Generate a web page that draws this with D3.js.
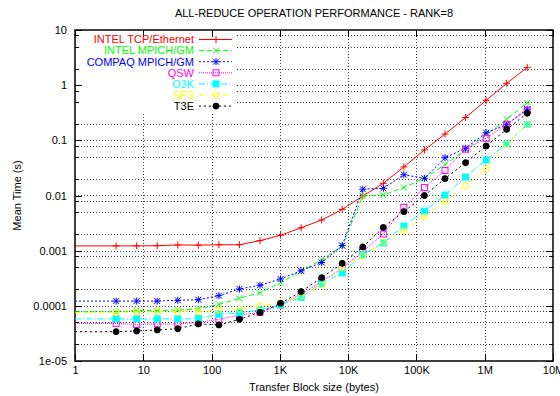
<!DOCTYPE html>
<html>
<head>
<meta charset="utf-8">
<script src="https://cdn.jsdelivr.net/npm/d3@7"></script>
<style>
  body { margin: 0; background: #fff; }
  #chart { width: 560px; height: 396px; }
  text { font-family: 'Liberation Sans', Arial, sans-serif; font-size: 11px; }
</style>
</head>
<body>
<div id="chart"></div>
<script>
// transfer block sizes (bytes)
const blockSizes = [4, 8, 16, 32, 64, 128, 256, 512, 1024, 2048, 4096, 8192, 16384,
  32768, 65536, 131072, 262144, 524288, 1048576, 2097152, 4194304];

// mean time (s) per implementation
const intelTcp = [0.00122, 0.00122, 0.00123, 0.00127, 0.00126, 0.00128, 0.00128, 0.00152,
  0.0019, 0.0026, 0.0036, 0.0056, 0.0098, 0.0166, 0.033, 0.067, 0.13, 0.26, 0.53, 1.08, 2.1];
const intelMpich = [0.000078, 0.000082, 0.000082, 0.000084, 0.000088, 0.000106, 0.000137, 0.000173,
  0.000263, 0.000429, 0.00068, 0.00122, 0.0098, 0.0102, 0.014, 0.0205, 0.0365, 0.067, 0.126, 0.24, 0.48];
const compaqMpich = [0.000122, 0.000122, 0.000122, 0.000126, 0.000129, 0.000153, 0.000202, 0.000236,
  0.000307, 0.000432, 0.00061, 0.00124, 0.013, 0.0135, 0.0238, 0.0205, 0.0484, 0.0718, 0.137, 0.195, 0.366];
const qsw = [0.000048, 0.000046, 0.000047, 0.000047, 0.00005, 0.000057, 0.000068, 0.000076,
  0.000104, 0.000164, 0.000274, 0.00048, 0.00097, 0.002, 0.0061, 0.0139, 0.0284, 0.069, 0.109, 0.195, 0.355];
const o3k = [0.000058, 0.000058, 0.000058, 0.000058, 0.000059, 0.00007, 0.000075, 0.000084,
  0.000104, 0.000143, 0.000256, 0.000394, 0.00084, 0.00138, 0.0028, 0.0052, 0.0102, 0.0216, 0.044, 0.086, 0.194];
const sp3 = [0.000075, 0.000078, 0.000078, 0.000078, 0.000078, 0.000084, 0.0000865, 0.0001,
  0.000114, 0.000151, 0.000239, 0.000485, 0.0008, 0.00144, 0.0023, 0.0041, 0.0077, 0.0151, 0.0303, 0.085, 0.195];
const t3e = [0.000034, 0.000035, 0.0000365, 0.0000385, 0.000047, 0.000045, 0.000057, 0.000076,
  0.000111, 0.000181, 0.000324, 0.00059, 0.00117, 0.00263, 0.0051, 0.01, 0.0202, 0.0394, 0.079, 0.158, 0.31];

const seriesNames = ['INTEL TCP/Ethernet', 'INTEL MPICH/GM', 'COMPAQ MPICH/GM', 'QSW', 'O3K', 'SP3', 'T3E'];
const seriesValues = [intelTcp, intelMpich, compaqMpich, qsw, o3k, sp3, t3e];

const xTickValues = [1, 10, 100, 1e3, 1e4, 1e5, 1e6, 1e7];
const xTickLabels = ['1', '10', '100', '1K', '10K', '100K', '1M', '10M'];
const yTickValues = [1e-5, 1e-4, 1e-3, 1e-2, 1e-1, 1, 10];
const yTickLabels = ['1e-05', '0.0001', '0.001', '0.01', '0.1', '1', '10'];

const styles = [
  { color: '#ff0000', dash: null, marker: 'plus' },
  { color: '#00ff00', dash: '5,3', marker: 'cross' },
  { color: '#0000ff', dash: '2,2', marker: 'star' },
  { color: '#ff00ff', dash: '1,1', marker: 'square' },
  { color: '#00ffff', dash: '6,2,1,2', marker: 'fsquare' },
  { color: '#ffff00', dash: '5,3,1,3', marker: 'circle' },
  { color: '#000000', dash: '2,3', marker: 'fcircle' },
];

const width = 560, height = 396;
const margin = { top: 30, right: 7, bottom: 35, left: 75 };
const x0 = margin.left, x1 = width - margin.right;
const y0 = margin.top, y1 = height - margin.bottom;

const svg = d3.select('#chart').append('svg').attr('width', width).attr('height', height);

const xScale = d3.scaleLog().domain([1, 1e7]).range([x0, x1]);
const yScale = d3.scaleLog().domain([1e-5, 10]).range([y1, y0]);

// minor y positions (2, 5, 8 of each decade)
const yMinor = [];
for (let e = -5; e < 1; e++) {
  [2, 5, 8].forEach((m) => yMinor.push(m * Math.pow(10, e)));
}

// grid
const gridG = svg.append('g').attr('class', 'grid')
  .attr('stroke', '#000').attr('stroke-width', 1).attr('stroke-dasharray', '1,2')
  .attr('shape-rendering', 'crispEdges').attr('opacity', 0.75);
gridG.selectAll('line.gx').data(xTickValues.slice(1, -1)).enter().append('line')
  .attr('class', 'gx')
  .attr('x1', (d) => Math.round(xScale(d)) + 0.5).attr('x2', (d) => Math.round(xScale(d)) + 0.5)
  .attr('y1', y0).attr('y2', y1);
gridG.selectAll('line.gy').data(yTickValues.slice(1, -1).concat(yMinor)).enter().append('line')
  .attr('class', 'gy')
  .attr('x1', x0).attr('x2', x1)
  .attr('y1', (d) => Math.round(yScale(d)) + 0.5).attr('y2', (d) => Math.round(yScale(d)) + 0.5);

// opaque key area
svg.append('rect').attr('x', x0 + 1).attr('y', y0 + 1).attr('width', 161).attr('height', 82).attr('fill', '#fff');

// axes (ticks drawn inward)
function styleAxis(g) {
  g.select('.domain').remove();
  g.selectAll('line').attr('stroke', '#000').attr('shape-rendering', 'crispEdges');
  g.selectAll('text').attr('font-size', 11).attr('font-family', "'Liberation Sans', Arial, sans-serif").attr('fill', '#000');
}
svg.append('g').attr('transform', 'translate(0,' + y1 + ')')
  .call(d3.axisBottom(xScale).tickValues(xTickValues).tickSizeInner(-7).tickSizeOuter(0).tickPadding(5)
    .tickFormat((d, i) => xTickLabels[i]))
  .call(styleAxis);
svg.append('g').attr('transform', 'translate(0,' + y0 + ')')
  .call(d3.axisTop(xScale).tickValues(xTickValues).tickSizeInner(-7).tickSizeOuter(0).tickFormat(''))
  .call(styleAxis);
svg.append('g').attr('transform', 'translate(' + x0 + ',0)')
  .call(d3.axisLeft(yScale).tickValues(yTickValues).tickSizeInner(-7).tickSizeOuter(0).tickPadding(8)
    .tickFormat((d, i) => yTickLabels[i]))
  .call(styleAxis);
svg.append('g').attr('transform', 'translate(' + x1 + ',0)')
  .call(d3.axisRight(yScale).tickValues(yTickValues).tickSizeInner(-7).tickSizeOuter(0).tickFormat(''))
  .call(styleAxis);
svg.append('g').attr('transform', 'translate(' + x0 + ',0)')
  .call(d3.axisLeft(yScale).tickValues(yMinor).tickSizeInner(-4).tickSizeOuter(0).tickFormat(''))
  .call(styleAxis);
svg.append('g').attr('transform', 'translate(' + x1 + ',0)')
  .call(d3.axisRight(yScale).tickValues(yMinor).tickSizeInner(-4).tickSizeOuter(0).tickFormat(''))
  .call(styleAxis);

// frame
svg.append('rect').attr('x', x0).attr('y', y0).attr('width', x1 - x0).attr('height', y1 - y0)
  .attr('fill', 'none').attr('stroke', '#000').attr('stroke-width', 1.5);

// titles
svg.append('text').attr('x', (x0 + x1) / 2).attr('y', 17).attr('text-anchor', 'middle')
  .text('ALL-REDUCE OPERATION PERFORMANCE - RANK=8');
svg.append('text').attr('x', (x0 + x1) / 2).attr('y', 391).attr('text-anchor', 'middle')
  .text('Transfer Block size (bytes)');
svg.append('text').attr('transform', 'translate(21,' + (y0 + y1) / 2 + ') rotate(-90)')
  .attr('text-anchor', 'middle').text('Mean Time (s)');

// marker drawing
function drawMarker(g, type, color, cx, cy) {
  const s = 3.5;
  if (type === 'plus' || type === 'star') {
    g.append('line').attr('x1', cx - s).attr('x2', cx + s).attr('y1', cy).attr('y2', cy).attr('stroke', color);
    g.append('line').attr('x1', cx).attr('x2', cx).attr('y1', cy - s).attr('y2', cy + s).attr('stroke', color);
  }
  if (type === 'cross' || type === 'star') {
    g.append('line').attr('x1', cx - 3).attr('x2', cx + 3).attr('y1', cy - 3).attr('y2', cy + 3).attr('stroke', color);
    g.append('line').attr('x1', cx - 3).attr('x2', cx + 3).attr('y1', cy + 3).attr('y2', cy - 3).attr('stroke', color);
  }
  if (type === 'square' || type === 'fsquare') {
    g.append('rect').attr('x', cx - 3).attr('y', cy - 3).attr('width', 6).attr('height', 6)
      .attr('fill', type === 'fsquare' ? color : 'none').attr('stroke', color);
  }
  if (type === 'circle' || type === 'fcircle') {
    g.append('circle').attr('cx', cx).attr('cy', cy).attr('r', 3)
      .attr('fill', type === 'fcircle' ? color : 'none').attr('stroke', color);
  }
}

// series
const plotG = svg.append('g');
const line = d3.line().x((d) => xScale(d.b)).y((d) => yScale(d.v));
seriesValues.forEach((vals, si) => {
  const st = styles[si];
  const pts = blockSizes.map((b, i) => ({ b: b, v: vals[i] }));
  // lead-in from the left edge at the first value
  const path = [{ b: xScale.domain()[0], v: vals[0] }].concat(pts);
  const g = plotG.append('g');
  g.append('path').attr('d', line(path)).attr('fill', 'none').attr('stroke', st.color)
    .attr('stroke-width', 1).attr('stroke-dasharray', st.dash);
  pts.forEach((p) => drawMarker(g, st.marker, st.color, xScale(p.b), yScale(p.v)));
});

// key
const keyG = svg.append('g');
seriesNames.forEach((name, i) => {
  const st = styles[i];
  const ky = 39.5 + i * 11.1;
  keyG.append('text').attr('x', 194).attr('y', ky).attr('dy', '0.35em').attr('text-anchor', 'end')
    .attr('fill', st.color).text(name);
  keyG.append('line').attr('x1', 199).attr('x2', 232).attr('y1', ky).attr('y2', ky)
    .attr('stroke', st.color).attr('stroke-dasharray', st.dash);
  drawMarker(keyG, st.marker, st.color, 216, ky);
});
</script>
</body>
</html>
